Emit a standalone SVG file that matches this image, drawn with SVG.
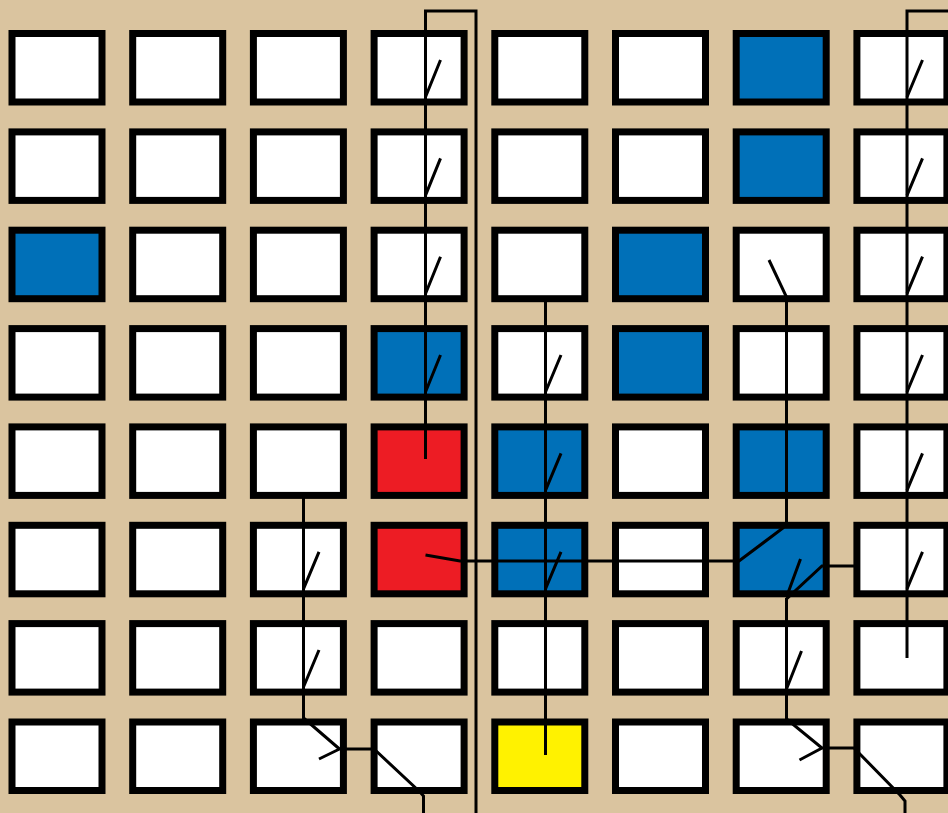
<svg xmlns="http://www.w3.org/2000/svg" width="948" height="813" viewBox="0 0 948 813">
<style>
.c{stroke:#000;stroke-width:7;fill:#fff}
.b{fill:#0070B8}
.r{fill:#ED1C24}
.y{fill:#FFF200}
.w{fill:#fff}
.ln{fill:none;stroke:#000;stroke-width:3;stroke-linejoin:miter}
</style>
<rect width="948" height="813" fill="#DAC49F"/>
<g id="cells">
<g id="r1">
<rect id="n1_1" class="c w" x="12" y="33.5" width="90" height="68.5"/>
<rect id="n1_2" class="c w" x="132.7" y="33.5" width="90" height="68.5"/>
<rect id="n1_3" class="c w" x="253.4" y="33.5" width="90" height="68.5"/>
<rect id="n1_4" class="c w" x="374.1" y="33.5" width="90" height="68.5"/>
<rect id="n1_5" class="c w" x="494.8" y="33.5" width="90" height="68.5"/>
<rect id="n1_6" class="c w" x="615.5" y="33.5" width="90" height="68.5"/>
<rect id="n1_7" class="c b" x="736.2" y="33.5" width="90" height="68.5"/>
<rect id="n1_8" class="c w" x="856.9" y="33.5" width="90" height="68.5"/>
</g>
<g id="r2">
<rect id="n2_1" class="c w" x="12" y="131.9" width="90" height="68.5"/>
<rect id="n2_2" class="c w" x="132.7" y="131.9" width="90" height="68.5"/>
<rect id="n2_3" class="c w" x="253.4" y="131.9" width="90" height="68.5"/>
<rect id="n2_4" class="c w" x="374.1" y="131.9" width="90" height="68.5"/>
<rect id="n2_5" class="c w" x="494.8" y="131.9" width="90" height="68.5"/>
<rect id="n2_6" class="c w" x="615.5" y="131.9" width="90" height="68.5"/>
<rect id="n2_7" class="c b" x="736.2" y="131.9" width="90" height="68.5"/>
<rect id="n2_8" class="c w" x="856.9" y="131.9" width="90" height="68.5"/>
</g>
<g id="r3">
<rect id="n3_1" class="c b" x="12" y="230.2" width="90" height="68.5"/>
<rect id="n3_2" class="c w" x="132.7" y="230.2" width="90" height="68.5"/>
<rect id="n3_3" class="c w" x="253.4" y="230.2" width="90" height="68.5"/>
<rect id="n3_4" class="c w" x="374.1" y="230.2" width="90" height="68.5"/>
<rect id="n3_5" class="c w" x="494.8" y="230.2" width="90" height="68.5"/>
<rect id="n3_6" class="c b" x="615.5" y="230.2" width="90" height="68.5"/>
<rect id="n3_7" class="c w" x="736.2" y="230.2" width="90" height="68.5"/>
<rect id="n3_8" class="c w" x="856.9" y="230.2" width="90" height="68.5"/>
</g>
<g id="r4">
<rect id="n4_1" class="c w" x="12" y="328.6" width="90" height="68.5"/>
<rect id="n4_2" class="c w" x="132.7" y="328.6" width="90" height="68.5"/>
<rect id="n4_3" class="c w" x="253.4" y="328.6" width="90" height="68.5"/>
<rect id="n4_4" class="c b" x="374.1" y="328.6" width="90" height="68.5"/>
<rect id="n4_5" class="c w" x="494.8" y="328.6" width="90" height="68.5"/>
<rect id="n4_6" class="c b" x="615.5" y="328.6" width="90" height="68.5"/>
<rect id="n4_7" class="c w" x="736.2" y="328.6" width="90" height="68.5"/>
<rect id="n4_8" class="c w" x="856.9" y="328.6" width="90" height="68.5"/>
</g>
<g id="r5">
<rect id="n5_1" class="c w" x="12" y="426.9" width="90" height="68.5"/>
<rect id="n5_2" class="c w" x="132.7" y="426.9" width="90" height="68.5"/>
<rect id="n5_3" class="c w" x="253.4" y="426.9" width="90" height="68.5"/>
<rect id="n5_4" class="c r" x="374.1" y="426.9" width="90" height="68.5"/>
<rect id="n5_5" class="c b" x="494.8" y="426.9" width="90" height="68.5"/>
<rect id="n5_6" class="c w" x="615.5" y="426.9" width="90" height="68.5"/>
<rect id="n5_7" class="c b" x="736.2" y="426.9" width="90" height="68.5"/>
<rect id="n5_8" class="c w" x="856.9" y="426.9" width="90" height="68.5"/>
</g>
<g id="r6">
<rect id="n6_1" class="c w" x="12" y="525.3" width="90" height="68.5"/>
<rect id="n6_2" class="c w" x="132.7" y="525.3" width="90" height="68.5"/>
<rect id="n6_3" class="c w" x="253.4" y="525.3" width="90" height="68.5"/>
<rect id="n6_4" class="c r" x="374.1" y="525.3" width="90" height="68.5"/>
<rect id="n6_5" class="c b" x="494.8" y="525.3" width="90" height="68.5"/>
<rect id="n6_6" class="c w" x="615.5" y="525.3" width="90" height="68.5"/>
<rect id="n6_7" class="c b" x="736.2" y="525.3" width="90" height="68.5"/>
<rect id="n6_8" class="c w" x="856.9" y="525.3" width="90" height="68.5"/>
</g>
<g id="r7">
<rect id="n7_1" class="c w" x="12" y="623.6" width="90" height="68.5"/>
<rect id="n7_2" class="c w" x="132.7" y="623.6" width="90" height="68.5"/>
<rect id="n7_3" class="c w" x="253.4" y="623.6" width="90" height="68.5"/>
<rect id="n7_4" class="c w" x="374.1" y="623.6" width="90" height="68.5"/>
<rect id="n7_5" class="c w" x="494.8" y="623.6" width="90" height="68.5"/>
<rect id="n7_6" class="c w" x="615.5" y="623.6" width="90" height="68.5"/>
<rect id="n7_7" class="c w" x="736.2" y="623.6" width="90" height="68.5"/>
<rect id="n7_8" class="c w" x="856.9" y="623.6" width="90" height="68.5"/>
</g>
<g id="r8">
<rect id="n8_1" class="c w" x="12" y="722" width="90" height="68.5"/>
<rect id="n8_2" class="c w" x="132.7" y="722" width="90" height="68.5"/>
<rect id="n8_3" class="c w" x="253.4" y="722" width="90" height="68.5"/>
<rect id="n8_4" class="c w" x="374.1" y="722" width="90" height="68.5"/>
<rect id="n8_5" class="c y" x="494.8" y="722" width="90" height="68.5"/>
<rect id="n8_6" class="c w" x="615.5" y="722" width="90" height="68.5"/>
<rect id="n8_7" class="c w" x="736.2" y="722" width="90" height="68.5"/>
<rect id="n8_8" class="c w" x="856.9" y="722" width="90" height="68.5"/>
</g>
</g>
<g id="connectors" class="ln">
<path class="ln" d="M425.5,459 V11 H476 V813"/>
<path class="ln" d="M425.5,97 L440.5,60 M425.5,195.4 L440.5,158.4 M425.5,293.7 L440.5,256.7 M425.5,392 L440.5,355"/>
<path class="ln" d="M425.5,555 L460,561 H739 L783,528 L786.5,523 V297 L769,260"/>
<path class="ln" d="M545.5,300 V755"/>
<path class="ln" d="M545.5,392 L561,355 M545.5,490.4 L561,453.4 M545.5,588.8 L561,551.8"/>
<path class="ln" d="M303.5,497 V718 L339.5,749 L319,759 M339.5,749 H374 L420,792 L423.5,796 V813"/>
<path class="ln" d="M303.5,588.8 L319,551.8 M303.5,687 L319,650"/>
<path class="ln" d="M857,566 H822 L786.5,599 V719 L822,748 L799.5,760 M822,748 H854 L900,795 L905,801 V813"/>
<path class="ln" d="M786.5,597 L800.5,559 M786.5,689 L801.5,651"/>
<path class="ln" d="M907,658 V11 H948"/>
<path class="ln" d="M907,97 L922.5,60 M907,195.4 L922.5,158.4 M907,293.7 L922.5,256.7 M907,392 L922.5,355 M907,490.4 L922.5,453.4 M907,588.8 L922.5,551.8"/>
</g>
</svg>
